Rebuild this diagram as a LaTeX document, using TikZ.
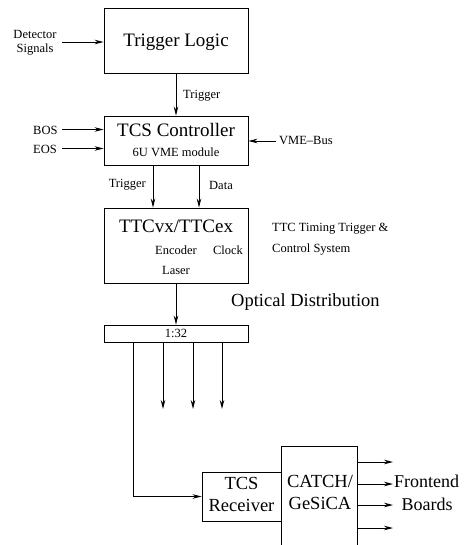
\documentclass[tikz,border=0pt]{standalone}
\usepackage{fontspec}
\usepackage{graphicx}
\setmainfont{Liberation Serif}
\usetikzlibrary{arrows.meta}
\newcommand\bigtxt[2][1.52]{\scalebox{#1}{\begin{tabular}{@{}c@{}}#2\end{tabular}}}
\begin{document}
\begin{tikzpicture}[x=1pt,y=-1pt,
  box/.style={draw,line width=0.9pt,inner sep=0pt},
  conn/.style={line width=0.9pt,-{Stealth[length=9pt,width=4.5pt]}},
  plain/.style={line width=0.9pt},
  small/.style={font=\fontsize{12.5}{14}\selectfont,inner sep=0pt},
  big/.style={font=\fontsize{12.5}{15}\selectfont,inner sep=0pt}]
\useasboundingbox (0,0) rectangle (463,545);
% boxes
\node[box,minimum width=144pt,minimum height=65pt] (tl) at (176,40.5) {};
\node[big] (tltext) at (176,42) {\bigtxt{Trigger Logic}};
\node[box,minimum width=144pt,minimum height=49pt] (tcs) at (176,140.5) {};
\node[big] (tcstext) at (176,132) {\bigtxt{TCS Controller}};
\node[small] (tcssub) at (176,152) {6U VME module};
\node[box,minimum width=144pt,minimum height=75pt] (ttc) at (176,245.5) {};
\node[big] (ttctext) at (176,228) {\bigtxt{TTCvx/TTCex}};
\node[small] (enc) at (176,250) {Encoder};
\node[small] (clk) at (228,250) {Clock};
\node[small] (las) at (176,270) {Laser};
\node[box,minimum width=144pt,minimum height=17pt] (split) at (176,333.5) {};
\node[small] (ratio) at (176,333) {1:32};
\node[box,minimum width=79pt,minimum height=49pt] (rec) at (241.5,496.5) {};
\node[big] (rectext) at (241.5,496) {\bigtxt[1.48]{TCS\\Receiver}};
\coordinate (catl) at (281,446);
\coordinate (catr) at (357.5,446);
\coordinate (catbl) at (281,546);
\coordinate (catbr) at (357.5,546);
\draw[plain] (catbl) -- (catl) -- (catr) -- (catbr);
\node[big] (cattext) at (320,494) {\bigtxt[1.48]{CATCH/\\GeSiCA}};
% labels
\node[small,align=center] (det) at (35,43) {Detector\\Signals};
\node[small,anchor=west] (bos) at (33,130) {BOS};
\node[small,anchor=west] (eos) at (33,149) {EOS};
\node[small,anchor=west] (vme) at (279,141) {VME--Bus};
\node[small,anchor=west] (trig1) at (183,96) {Trigger};
\node[small,anchor=east] (trig2) at (146,185) {Trigger};
\node[small,anchor=west] (data) at (209,185) {Data};
\node[small,anchor=west] (ttcdesc1) at (272,229) {TTC Timing Trigger \&};
\node[small,anchor=west] (ttcdesc2) at (272,250) {Control System};
\node[big,anchor=west] (opt) at (231,302) {\bigtxt[1.48]{Optical Distribution}};
\node[big,anchor=west] (fe1) at (394,483) {\bigtxt[1.44]{Frontend}};
\node[big] (fe2) at (427,506) {\bigtxt[1.44]{Boards}};
% connectors
\coordinate (detend) at (62,42);
\draw[conn] (detend) -- (detend -| tl.west);
\coordinate (bosend) at (62,129.5);
\draw[conn] (bosend) -- (bosend -| tcs.west);
\coordinate (eosend) at (62,148.5);
\draw[conn] (eosend) -- (eosend -| tcs.west);
\coordinate (vmeend) at (276,141);
\draw[conn] (vmeend) -- (vmeend -| tcs.east);
\draw[conn] (tl.south) -- (tcs.north);
\coordinate (tA) at (153,165);
\draw[conn] (tA) -- (tA |- ttc.north);
\coordinate (tB) at (199,165);
\draw[conn] (tB) -- (tB |- ttc.north);
\draw[conn] (ttc.south) -- (split.north);
\coordinate (s1) at (163,342);
\coordinate (s2) at (193,342);
\coordinate (s3) at (222,342);
\coordinate (e1) at (163,409);
\coordinate (e2) at (193,409);
\coordinate (e3) at (222,409);
\draw[conn] (s1) -- (e1);
\draw[conn] (s2) -- (e2);
\draw[conn] (s3) -- (e3);
\coordinate (s0) at (133.5,342);
\draw[conn] (s0) |- (rec.west);
\foreach \yy/\nm in {462/o1,484/o2,505/o3,528/o4}{
  \coordinate (\nm a) at (357.5,\yy);
  \coordinate (\nm b) at (393,\yy);
  \draw[conn] (\nm a) -- (\nm b);
}
\end{tikzpicture}
\end{document}
